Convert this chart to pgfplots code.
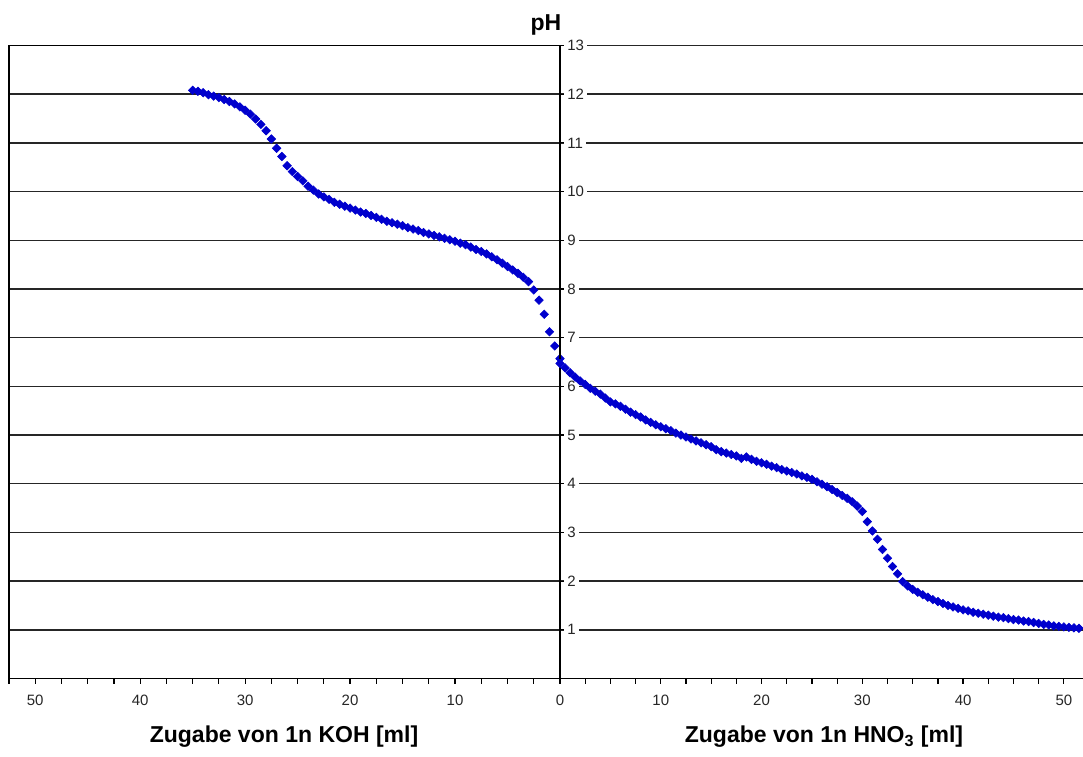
\documentclass[border=0pt]{standalone}
\usepackage{pgfplots}
\pgfplotsset{compat=1.18}
\usepackage{pgfplotstable}
\usepackage{fontspec}
\setmainfont{Liberation Sans}
\definecolor{mkblue}{RGB}{0,0,205}

\pgfplotstableread{
x pH
0 6.57
0.5 6.83
1 7.12
1.5 7.48
2 7.77
2.5 7.98
3 8.15
3.5 8.24
4 8.32
4.5 8.39
5 8.46
5.5 8.53
6 8.60
6.5 8.66
7 8.72
7.5 8.77
8 8.81
8.5 8.86
9 8.91
9.5 8.94
10 8.98
10.5 9.01
11 9.04
11.5 9.07
12 9.10
12.5 9.13
13 9.16
13.5 9.20
14 9.23
14.5 9.26
15 9.30
15.5 9.33
16 9.36
16.5 9.39
17 9.43
17.5 9.47
18 9.51
18.5 9.55
19 9.58
19.5 9.62
20 9.66
20.5 9.70
21 9.74
21.5 9.78
22 9.84
22.5 9.89
23 9.95
23.5 10.03
24 10.11
24.5 10.22
25 10.31
25.5 10.41
26 10.53
26.5 10.72
27 10.89
27.5 11.08
28 11.25
28.5 11.38
29 11.49
29.5 11.59
30 11.67
30.5 11.74
31 11.80
31.5 11.85
32 11.89
32.5 11.93
33 11.96
33.5 11.99
34 12.03
34.5 12.06
35 12.08
}\koh

\pgfplotstableread{
x pH
0 6.47
0.5 6.38
1 6.28
1.5 6.19
2 6.11
2.5 6.04
3 5.96
3.5 5.90
4 5.84
4.5 5.76
5 5.68
5.5 5.64
6 5.59
6.5 5.53
7 5.47
7.5 5.42
8 5.37
8.5 5.31
9 5.26
9.5 5.21
10 5.17
10.5 5.13
11 5.09
11.5 5.04
12 5.00
12.5 4.96
13 4.92
13.5 4.88
14 4.84
14.5 4.80
15 4.76
15.5 4.70
16 4.66
16.5 4.63
17 4.60
17.5 4.57
18 4.52
18.5 4.55
19 4.50
19.5 4.46
20 4.43
20.5 4.40
21 4.36
21.5 4.33
22 4.29
22.5 4.26
23 4.23
23.5 4.20
24 4.16
24.5 4.13
25 4.09
25.5 4.04
26 3.99
26.5 3.94
27 3.88
27.5 3.82
28 3.76
28.5 3.70
29 3.63
29.5 3.54
30 3.43
30.5 3.22
31 3.03
31.5 2.86
32 2.65
32.5 2.47
33 2.30
33.5 2.15
34 1.99
34.5 1.90
35 1.83
35.5 1.77
36 1.72
36.5 1.67
37 1.62
37.5 1.58
38 1.54
38.5 1.50
39 1.47
39.5 1.44
40 1.41
40.5 1.39
41 1.36
41.5 1.34
42 1.32
42.5 1.30
43 1.28
43.5 1.26
44 1.25
44.5 1.23
45 1.21
45.5 1.20
46 1.18
46.5 1.17
47 1.15
47.5 1.13
48 1.11
48.5 1.10
49 1.08
49.5 1.07
50 1.06
50.5 1.05
51 1.04
51.5 1.03
52 1.02
}\hno

\pgfplotsset{
  common/.style={
    scale only axis, anchor=south west, height=316.5pt,
    ymin=0, ymax=13, ytick={1,...,13},
    ymajorgrids,
    grid style={black!85, line width=0.75pt},
    axis line style={black, line width=0.75pt},
    tick style={black, line width=0.6pt},
    tick align=outside,
    major tick length=2.5pt, minor tick length=2.5pt,
    tick label style={font=\fontsize{7.5}{8.5}\selectfont, text=black!85,
      /pgf/number format/assume math mode=true},
    xticklabel style={yshift=-2.2pt},
    xtick pos=bottom,
  },
  pts/.style={only marks, mark=square*, mark size=1.5pt,
    mark options={rotate=45, draw=mkblue, fill=mkblue, line width=0.3pt}},
}

\begin{document}
\begin{tikzpicture}
\path[use as bounding box] (0pt,0pt) rectangle (541.5pt,378pt);

\begin{axis}[common,
  at={(4.5pt,38.75pt)}, width=275.5pt,
  xmin=0, xmax=52.5, x dir=reverse,
  xtick={10,20,30,40,50},
  minor xtick={0,2.5,5,7.5,12.5,15,17.5,22.5,25,27.5,32.5,35,37.5,42.5,45,47.5,52.5},
  yticklabels={}, ytick style={draw=none},
]
\addplot[pts] table[x=x, y=pH] {\koh};
\end{axis}

\begin{axis}[common,
  at={(280pt,38.75pt)}, width=261.5pt,
  xmin=0, xmax=51.9,
  axis x line*=bottom, axis y line*=left,
  xtick={0,10,20,30,40,50},
  minor xtick={2.5,5,7.5,12.5,15,17.5,22.5,25,27.5,32.5,35,37.5,42.5,45,47.5},
  ytick style={xshift=2.5pt},
  yticklabel style={anchor=west, fill=white, inner xsep=1.5pt, inner ysep=0.5pt, xshift=4.5pt},
]
\addplot[pts] table[x=x, y=pH] {\hno};
\end{axis}

\node[font=\bfseries\fontsize{11.5}{13}\selectfont, anchor=base] at (273pt,362.5pt) {pH};
\node[font=\bfseries\fontsize{11.5}{13}\selectfont, anchor=base] at (142pt,6.5pt) {Zugabe von 1n KOH [ml]};
\node[font=\bfseries\fontsize{11.5}{13}\selectfont, anchor=base] at (412pt,6.5pt) {Zugabe von 1n HNO\textsubscript{3} [ml]};
\end{tikzpicture}
\end{document}
